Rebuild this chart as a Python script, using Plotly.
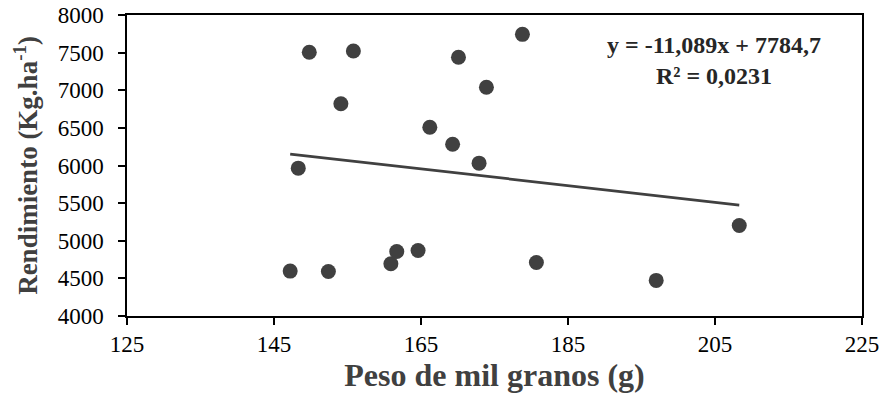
import plotly.graph_objects as go

peso = [147.2, 152.4, 160.9, 161.7, 164.6, 149.8, 155.8, 154.1, 166.2, 148.3,
        178.8, 170.1, 173.9, 169.3, 172.9, 180.7, 197.0, 208.3]
rendimiento = [4597, 4592, 4694, 4858, 4871, 7504, 7522, 6820, 6509, 5965,
               7743, 7438, 7040, 6283, 6031, 4711, 4473, 5203]
slope = -11.089
intercept = 7784.7
eq_text = "y = -11,089x + 7784,7<br>R² = 0,0231"

xmin, xmax = min(peso), max(peso)
trend_x = [xmin, xmax]
trend_y = [slope * v + intercept for v in trend_x]

fig = go.Figure()
fig.add_trace(go.Scatter(x=trend_x, y=trend_y, mode="lines",
                         line=dict(color="#404040", width=2.75), showlegend=False))
fig.add_trace(go.Scatter(x=peso, y=rendimiento, mode="markers",
                         marker=dict(color="#404040", size=15), showlegend=False))

font_family = "Liberation Serif, Times New Roman, serif"
fig.update_layout(
    width=882, height=396,
    margin=dict(l=127, r=20, t=15, b=80, autoexpand=False),
    paper_bgcolor="white", plot_bgcolor="white",
    font=dict(family=font_family, color="black", size=23),
    xaxis=dict(range=[125, 225], dtick=20, tick0=125, showgrid=False, zeroline=False,
               showline=True, linecolor="black", linewidth=1.5, mirror=True,
               ticks="outside", ticklen=7, tickcolor="black", tickwidth=1.5,
               automargin=False,
               tickfont=dict(size=23, color="black"),
               title=dict(text="<b>Peso de mil granos (g)</b>", standoff=4,
                          font=dict(size=32, color="#404040"))),
    yaxis=dict(range=[4000, 8000], dtick=500, showgrid=False, zeroline=False,
               showline=True, linecolor="black", linewidth=1.5, mirror=True,
               ticks="outside", ticklen=7, tickcolor="black", tickwidth=1.5,
               ticklabelstandoff=10, automargin=False,
               tickfont=dict(size=23, color="black"),
               title=dict(text="<b>Rendimiento (Kg.ha<sup>-1</sup>)</b>", standoff=12,
                          font=dict(size=27, color="#404040"))),
    annotations=[dict(x=0.798, y=0.85, xref="paper", yref="paper", text="<b>" + eq_text + "</b>",
                      showarrow=False, align="center", xanchor="center", yanchor="middle",
                      font=dict(size=24, color="#262626", family=font_family))],
)

fig.write_html("out.html")
